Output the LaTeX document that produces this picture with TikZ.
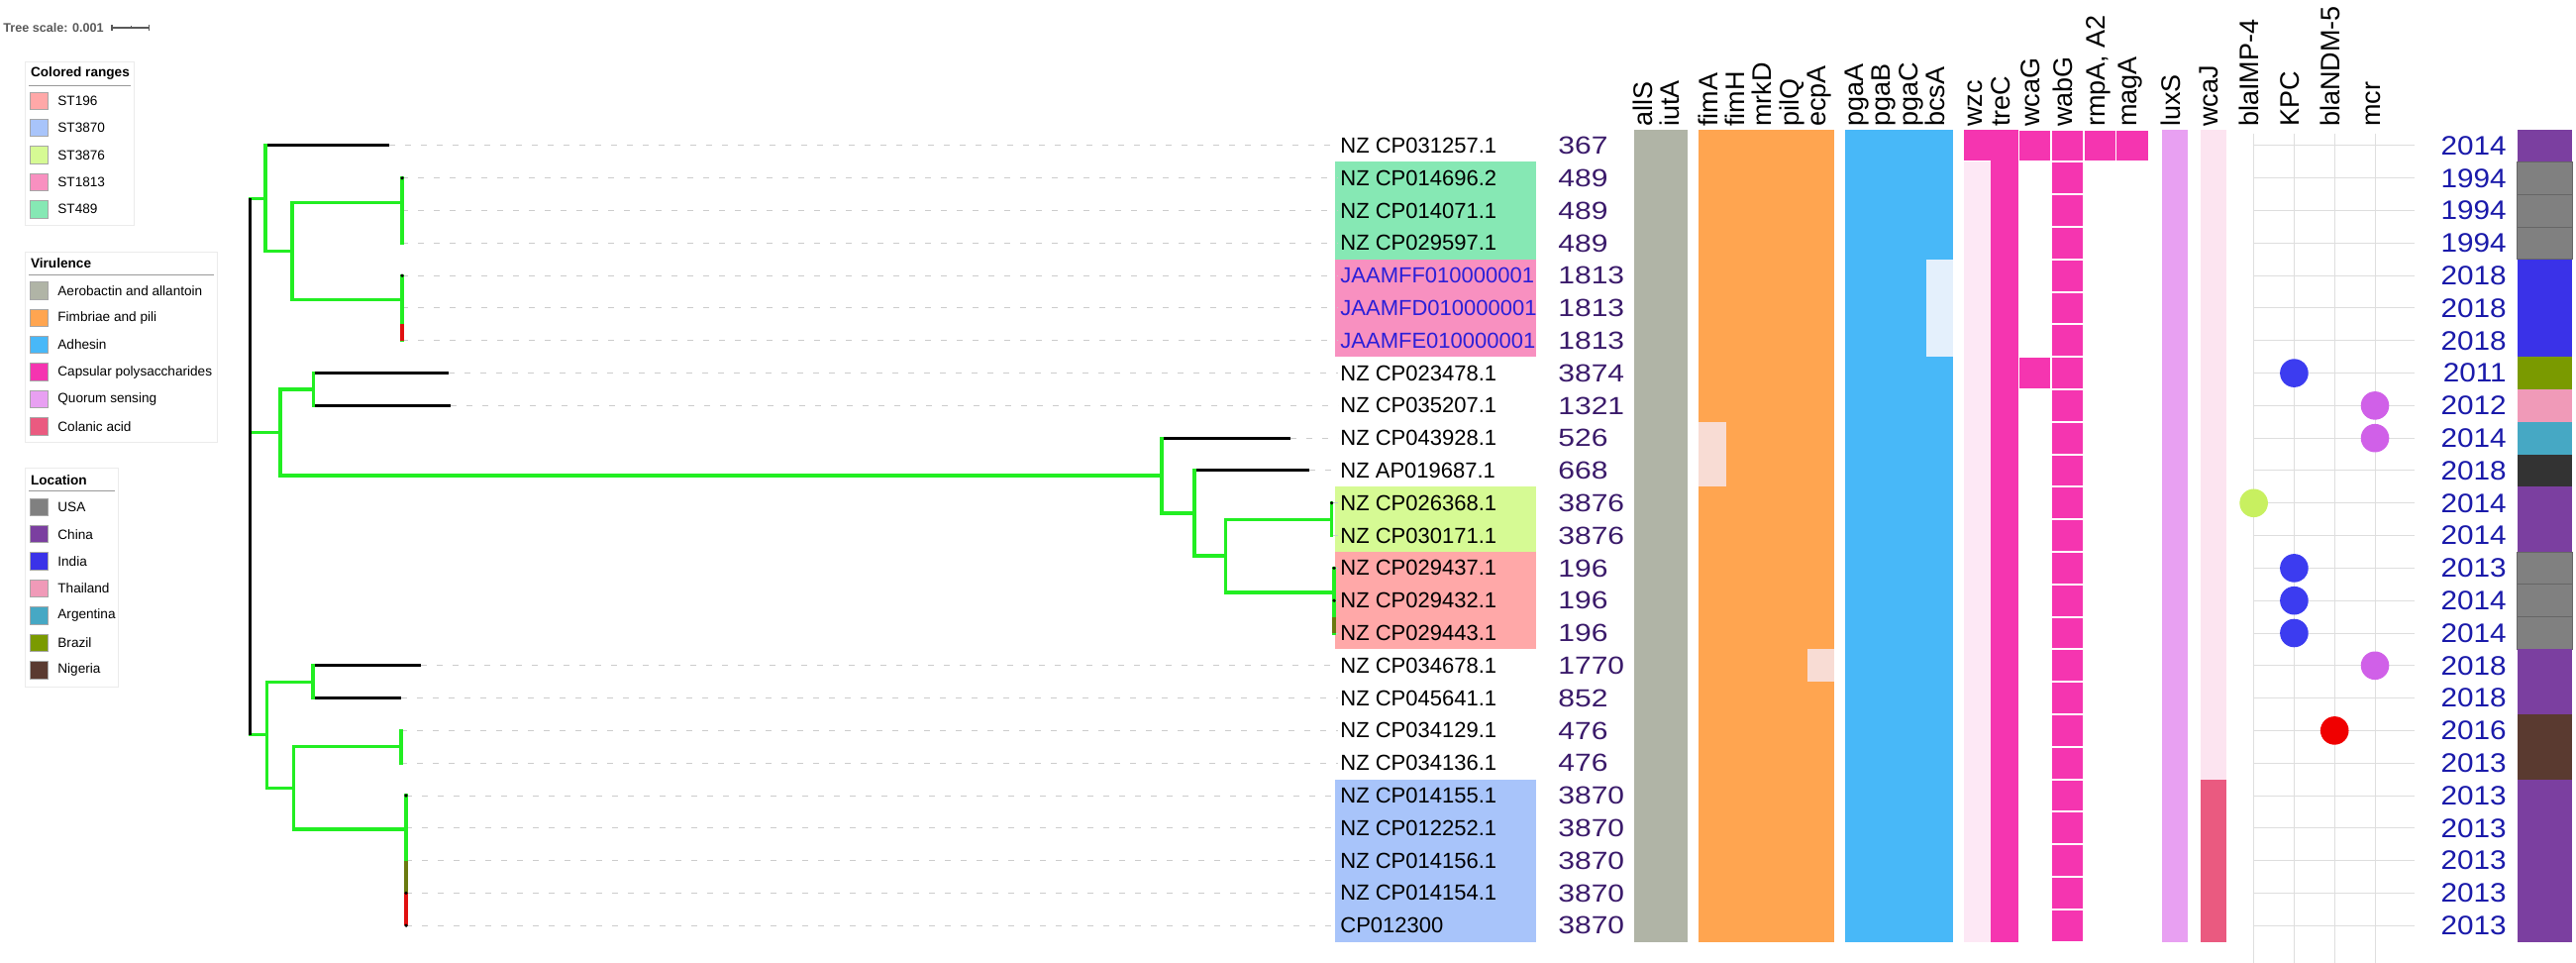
\documentclass[tikz,border=0pt]{standalone}
\usepackage{fontspec}
\setmainfont{Liberation Sans}
\newfontfamily\stfont[FakeStretch=1.2]{Liberation Sans}
\newfontfamily\yearfont[FakeStretch=1.1]{Liberation Sans}
\usetikzlibrary{positioning,calc}

\definecolor{brgreen}{HTML}{22EE22}
\definecolor{brred}{HTML}{E01010}
\definecolor{brolive}{HTML}{6A7A10}
\definecolor{rng196}{HTML}{FFA8A8}
\definecolor{rng3870}{HTML}{A8C4FA}
\definecolor{rng3876}{HTML}{D6FA94}
\definecolor{rng1813}{HTML}{F890C0}
\definecolor{rng489}{HTML}{86E8B4}
\definecolor{virAero}{HTML}{B0B4A6}
\definecolor{virFimb}{HTML}{FFA550}
\definecolor{virAdh}{HTML}{48B8F8}
\definecolor{virCaps}{HTML}{F535B0}
\definecolor{virQuor}{HTML}{E8A0F2}
\definecolor{virColan}{HTML}{EA5A80}
\definecolor{fimLight}{HTML}{F8DCD4}
\definecolor{adhLight}{HTML}{E4F0FC}
\definecolor{capsLight}{HTML}{FDE8F5}
\definecolor{colLight}{HTML}{FCE4F0}
\definecolor{locUSA}{HTML}{808080}
\definecolor{locChina}{HTML}{7B3FA0}
\definecolor{locIndia}{HTML}{3A32E8}
\definecolor{locThai}{HTML}{F09AB8}
\definecolor{locArg}{HTML}{46A8C4}
\definecolor{locBrazil}{HTML}{7A9A00}
\definecolor{locNigeria}{HTML}{5A3A30}
\definecolor{locDark}{HTML}{333333}
\definecolor{dotKPC}{HTML}{3C3CF0}
\definecolor{dotMCR}{HTML}{D060E8}
\definecolor{dotIMP}{HTML}{C8F060}
\definecolor{dotNDM}{HTML}{F00000}
\definecolor{stText}{HTML}{3A1A6A}
\definecolor{yearText}{HTML}{1A1AAA}
\definecolor{jaamText}{HTML}{2B1FD8}

\tikzset{
        % Tree branches
        treebr/.style={line width=1.65pt, brgreen, line cap=rect},
        leafbr/.style={line width=1.5pt, black},
        rootbr/.style={line width=1.3pt, black},
        redbr/.style={line width=1.65pt, brred},
        olivebr/.style={line width=1.65pt, brolive},
        leader/.style={line width=0.5pt, black!20, dash pattern=on 3pt off 5pt},
        % Leaf texts
        leaflabel/.style={anchor=west, inner xsep=1pt, inner ysep=0pt, font=\fontsize{11}{13}\selectfont},
        stlabel/.style={anchor=west, inner sep=0pt, text=stText, font=\stfont\fontsize{12.5}{14}\selectfont},
        yearlabel/.style={anchor=east, inner sep=0pt, text=yearText, font=\yearfont\fontsize{13.5}{15}\selectfont},
        genehead/.style={anchor=west, rotate=90, inner sep=0pt, text height=0.72em, text depth=0.22em, font=\fontsize{13.5}{15}\selectfont},
        genedot/.style={circle, minimum size=14.3pt, inner sep=0pt},
        gridline/.style={line width=0.5pt, black!13},
        % Location cells
        cellUSA/.style={fill=locUSA, draw=black!60, line width=0.45pt},
        cellChina/.style={fill=locChina},
        cellIndia/.style={fill=locIndia},
        cellThai/.style={fill=locThai},
        cellArg/.style={fill=locArg},
        cellBrazil/.style={fill=locBrazil},
        cellNigeria/.style={fill=locNigeria},
        cellDark/.style={fill=locDark},
        % Legends
        legendbox/.style={draw=black!8, line width=0.5pt, fill=white},
        legendrule/.style={draw=black!40, line width=0.5pt},
        legendtitle/.style={anchor=west, inner sep=0pt, font=\bfseries\fontsize{6.8}{8}\selectfont},
        legenditem/.style={anchor=west, inner sep=0pt, font=\fontsize{6.8}{8}\selectfont},
        swatch/.style={minimum width=9.2pt, minimum height=8.7pt, inner sep=0pt, draw=black!35, line width=0.4pt},
        scalelabel/.style={anchor=west, inner sep=0pt, text=black!65, font=\bfseries\fontsize{6.3}{7.5}\selectfont},
        scalebar/.style={line width=0.6pt, black!65}
}

\newcommand{\treeedge}[3]{\draw[#1] (#3 -| #2) -- (#3);}
\newcommand{\treestem}[4]{\draw[#1] (#3 -| #2) -- (#4 -| #2);}

\begin{document}
\begin{tikzpicture}[x=0.5pt, y=-0.5pt]
    \useasboundingbox (0,0) rectangle (2601,972);

    % Tree scale
    \node[scalelabel] (treescale) at (3,28) {Tree scale: 0.001};
    \draw[scalebar] (113,28) -- (150.7,28);
    \draw[scalebar] (113,25) -- (113,31) (150.7,25) -- (150.7,31) (132.7,26.5) -- (132.7,29.5);

    % Colored ranges legend
    \draw[legendbox] (25,63) rectangle (135,228);
    \node[legendtitle] (rngtitle) at (30.7,74) {Colored ranges};
    \draw[legendrule] (29,86.7) -- (132,86.7);
    \foreach \c/\t [count=\k from 0] in {rng196/ST196, rng3870/ST3870, rng3876/ST3876, rng1813/ST1813, rng489/ST489} {
        \node[swatch, fill=\c] (rngsw\k) at (39.2,101.7+27.4*\k) {};
        \node[legenditem, right=4.6pt of rngsw\k] (rngitem\k) {\t};
    }

    % Virulence legend
    \draw[legendbox] (25,255) rectangle (219,447);
    \node[legendtitle] (virtitle) at (30.7,266) {Virulence};
    \draw[legendrule] (29,277.7) -- (216,277.7);
    \foreach \c/\t [count=\k from 0] in {virAero/Aerobactin and allantoin, virFimb/Fimbriae and pili, virAdh/Adhesin, virCaps/Capsular polysaccharides, virQuor/Quorum sensing, virColan/Colanic acid} {
        \node[swatch, fill=\c] (virsw\k) at (39.2,293.3+27.4*\k) {};
        \node[legenditem, right=4.6pt of virsw\k] (viritem\k) {\t};
    }

    % Location legend
    \draw[legendbox] (25,473) rectangle (119,693);
    \node[legendtitle] (loctitle) at (30.7,484.4) {Location};
    \draw[legendrule] (29,496) -- (116,496);
    \foreach \c/\t [count=\k from 0] in {locUSA/USA, locChina/China, locIndia/India, locThai/Thailand, locArg/Argentina, locBrazil/Brazil, locNigeria/Nigeria} {
        \node[swatch, fill=\c] (locsw\k) at (39.2,511.8+27.4*\k) {};
        \node[legenditem, right=4.6pt of locsw\k] (locitem\k) {\t};
    }

    % Colored ranges behind labels
    \fill[rng489] (1347.7,163.4) rectangle (1551,261.8);
    \fill[rng1813] (1347.7,261.8) rectangle (1551,360.2);
    \fill[rng3876] (1347.7,491.4) rectangle (1551,557);
    \fill[rng196] (1347.7,557) rectangle (1551,655.4);
    \fill[rng3870] (1347.7,786.6) rectangle (1551,950.6);

    % Virulence heatmap
    \fill[virAero] (1649.6,130.6) rectangle (1704,950.6);
    \fill[virFimb] (1715.4,130.6) rectangle (1852,950.6);
    \fill[fimLight] (1715.4,425.8) rectangle (1742.7,491.4);
    \fill[fimLight] (1824.7,655.4) rectangle (1852,688.2);
    \fill[virAdh] (1863,130.6) rectangle (1972,950.6);
    \fill[adhLight] (1944.7,261.8) rectangle (1972,360.2);
    \fill[capsLight] (1983.3,163.4) rectangle (2010.3,950.6);
    \fill[virCaps] (1983.3,130.6) rectangle (2038.4,162.4);
    \fill[virCaps] (2010.3,130.6) rectangle (2038.4,950.6);
    \foreach \xa/\xb in {2039.4/2070.4, 2072/2103, 2105/2135.5, 2137/2168.5}
        \fill[virCaps] (\xa,131.6) rectangle (\xb,162.4);
    \fill[virCaps] (2039.4,361.2) rectangle (2070.4,392);
    \foreach \r in {1,...,24}
        \fill[virCaps] (2072,131.6+32.8*\r) rectangle (2103,162.4+32.8*\r);
    \fill[virQuor] (2182.8,130.6) rectangle (2209.3,950.6);
    \fill[colLight] (2221.5,130.6) rectangle (2248,786.6);
    \fill[virColan] (2221.5,786.6) rectangle (2248,950.6);

    % Resistance grid
    \foreach \x in {2275.6,2316.4,2357.2,2398}
        \draw[gridline] (\x,135) -- (\x,972);
    \foreach \r in {0,...,24}
        \draw[gridline] (2275.6,147+32.8*\r) -- (2438,147+32.8*\r);

    % Leaves
    \foreach \tip/\lab/\labcol/\st/\yr/\loc [count=\i from 0] in {
        393/NZ CP031257.1/black/367/2014/cellChina,
        406/NZ CP014696.2/black/489/1994/cellUSA,
        406/NZ CP014071.1/black/489/1994/cellUSA,
        406/NZ CP029597.1/black/489/1994/cellUSA,
        406/JAAMFF010000001/jaamText/1813/2018/cellIndia,
        406/JAAMFD010000001/jaamText/1813/2018/cellIndia,
        406/JAAMFE010000001/jaamText/1813/2018/cellIndia,
        453/NZ CP023478.1/black/3874/2011/cellBrazil,
        455/NZ CP035207.1/black/1321/2012/cellThai,
        1303/NZ CP043928.1/black/526/2014/cellArg,
        1322/NZ AP019687.1/black/668/2018/cellDark,
        1344.6/NZ CP026368.1/black/3876/2014/cellChina,
        1344.6/NZ CP030171.1/black/3876/2014/cellChina,
        1347/NZ CP029437.1/black/196/2013/cellUSA,
        1347/NZ CP029432.1/black/196/2014/cellUSA,
        1347/NZ CP029443.1/black/196/2014/cellUSA,
        425/NZ CP034678.1/black/1770/2018/cellChina,
        405/NZ CP045641.1/black/852/2018/cellChina,
        405/NZ CP034129.1/black/476/2016/cellNigeria,
        405/NZ CP034136.1/black/476/2013/cellNigeria,
        410/NZ CP014155.1/black/3870/2013/cellChina,
        410/NZ CP012252.1/black/3870/2013/cellChina,
        410/NZ CP014156.1/black/3870/2013/cellChina,
        410/NZ CP014154.1/black/3870/2013/cellChina,
        410/CP012300/black/3870/2013/cellChina} {
        \pgfmathsetmacro{\y}{147+32.8*\i}
        \coordinate (t\i) at (\tip,\y);
        \node[leaflabel, text=\labcol] (lab\i) at (1351,\y) {\lab};
        \node[stlabel] (st\i) at (1573,\y) {\st};
        \node[yearlabel] (yr\i) at (2531,\y) {\yr};
        \path[\loc] (2541.7,\y-16.4) rectangle (2597,\y+16.4);
        \draw[leader] (t\i) -- (lab\i.west);
    }

    % Internal nodes
    \coordinate (root) at (252.7,471);
    \coordinate (cA) at (268,200.3);
    \coordinate (cA2) at (295,253.6);
    \coordinate (c489) at (406,204.4);
    \coordinate (c1813) at (406,302.8);
    \coordinate (cM) at (283,436.6);
    \coordinate (cM1) at (316.7,393);
    \coordinate (cM2) at (1173,480.1);
    \coordinate (cM3) at (1206,518);
    \coordinate (cM4) at (1237.5,561.1);
    \coordinate (c3876) at (1344.6,524.2);
    \coordinate (c196) at (1347,598);
    \coordinate (cB) at (269.6,741.8);
    \coordinate (cB1) at (316,688.2);
    \coordinate (cB2) at (296.4,795.4);
    \coordinate (c476) at (405,753.8);
    \coordinate (c3870) at (410,837);

    % Leaf branches
    \treeedge{leafbr}{cA}{t0}
    \treeedge{leafbr}{cM1}{t7}
    \treeedge{leafbr}{cM1}{t8}
    \treeedge{leafbr}{cM2}{t9}
    \treeedge{leafbr}{cM3}{t10}
    \treeedge{leafbr}{cB1}{t16}
    \treeedge{leafbr}{cB1}{t17}

    % Inner branches
    \treeedge{treebr}{root}{cA}
    \treeedge{treebr}{root}{cM}
    \treeedge{treebr}{root}{cB}
    \treeedge{treebr}{cA}{cA2}
    \treeedge{treebr}{cA2}{c489}
    \treeedge{treebr}{cA2}{c1813}
    \treeedge{treebr}{cM}{cM1}
    \treeedge{treebr}{cM}{cM2}
    \treeedge{treebr}{cM2}{cM3}
    \treeedge{treebr}{cM3}{cM4}
    \treeedge{treebr}{cM4}{c3876}
    \treeedge{treebr}{cM4}{c196}
    \treeedge{treebr}{cB}{cB1}
    \treeedge{treebr}{cB}{cB2}
    \treeedge{treebr}{cB2}{c476}
    \treeedge{treebr}{cB2}{c3870}

    \treestem{treebr}{cA}{t0}{cA2}
    \treestem{treebr}{cA2}{c489}{c1813}
    \treestem{treebr}{c489}{t1}{t3}
    \treestem{treebr}{c1813}{t4}{t6}
    \treestem{treebr}{cM}{cM1}{cM2}
    \treestem{treebr}{cM1}{t7}{t8}
    \treestem{treebr}{cM2}{t9}{cM3}
    \treestem{treebr}{cM3}{t10}{cM4}
    \treestem{treebr}{cM4}{c3876}{c196}
    \treestem{treebr}{c3876}{t11}{t12}
    \treestem{treebr}{c196}{t13}{t15}
    \treestem{treebr}{cB}{cB1}{cB2}
    \treestem{treebr}{cB1}{t16}{t17}
    \treestem{treebr}{cB2}{c476}{c3870}
    \treestem{treebr}{c476}{t18}{t19}
    \treestem{treebr}{c3870}{t20}{t22}
    \treestem{olivebr}{c3870}{t22}{t23}
    \treestem{redbr}{c3870}{t23}{t24}
    \draw[redbr] ($(t5)!0.5!(t6)$) -- (t6);
    \draw[olivebr] ($(t14)!0.5!(t15)$) -- (t15);
    \treestem{rootbr}{root}{cA}{cB}
    \foreach \k in {1,4,11,13,14,20,23,24}
        \fill (t\k) circle (1.8);

    % Gene headers
    \foreach \x/\g [count=\h] in {1663.2/allS, 1690.4/iutA, 1729/fimA, 1756.3/fimH, 1783.7/mrkD, 1811/pilQ, 1838.4/ecpA,
        1876.6/pgaA, 1903.9/pgaB, 1931.2/pgaC, 1958.5/bcsA, 1996.8/wzc, 2024.3/treC, 2054.9/wcaG, 2087.5/wabG,
        2120.2/{rmpA, A2}, 2152.8/magA, 2196/luxS, 2234.8/wcaJ, 2275.6/blaIMP-4, 2316.4/KPC, 2357.2/blaNDM-5, 2398/mcr}
        \node[genehead] (head\h) at (\x,128) {\g};

    % Resistance genes
    \foreach \x/\r/\c [count=\d] in {2275.6/11/dotIMP, 2316.4/7/dotKPC, 2316.4/13/dotKPC, 2316.4/14/dotKPC, 2316.4/15/dotKPC,
        2357.2/18/dotNDM, 2398/8/dotMCR, 2398/9/dotMCR, 2398/16/dotMCR}
        \node[genedot, fill=\c] (dot\d) at (\x,147+32.8*\r) {};
\end{tikzpicture}
\end{document}
